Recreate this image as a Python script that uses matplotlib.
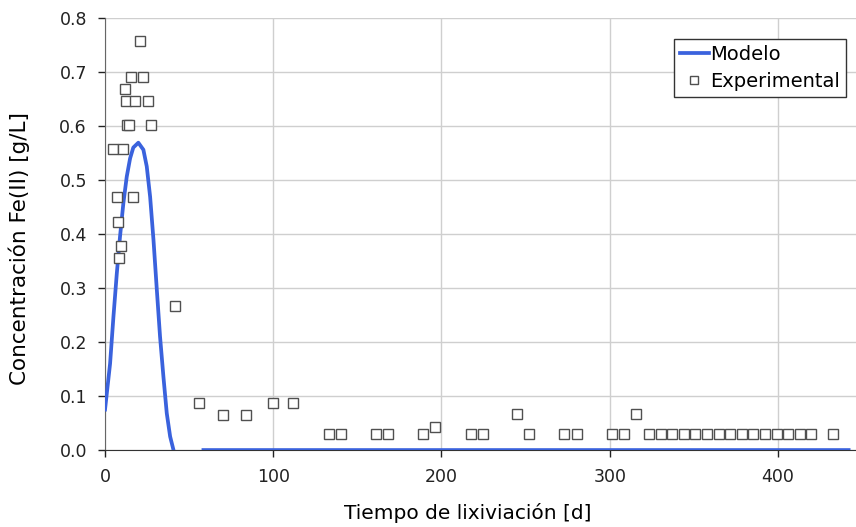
import numpy as np
import matplotlib
matplotlib.use("Agg")
import matplotlib.pyplot as plt
from matplotlib.ticker import FormatStrFormatter

plt.rcParams["font.family"] = ["DejaVu Sans"]

# ── data ─────────────────────────────────────────────────
# modelo (dos tramos, separados por NaN)
model_t = [0, 3, 5, 7, 8.9, 10.9, 12.9, 14.9, 16.8, 19.8, 22.8, 24.8, 26.8,
           28.8, 30.8, 32.7, 34.7, 36.7, 38.7, 40.7, np.nan, 58.5, 442]
model_c = [0.075, 0.16, 0.247, 0.327, 0.395, 0.457, 0.506, 0.54, 0.56, 0.569,
           0.556, 0.525, 0.469, 0.389, 0.296, 0.21, 0.136, 0.068, 0.025, 0.0,
           np.nan, 0.0, 0.0]

exp_t = [4.9, 7.0, 7.5, 8.5, 9.3, 10.5, 11.7, 12.5, 12.9, 14.5, 15.5, 16.5,
         17.9, 20.8, 22.4, 25.8, 27.6, 41.7, 55.8, 70.0, 83.8, 99.6, 111.7,
         133.0, 140.4, 161.1, 168.2, 189.1, 196.0, 217.3, 224.6, 245.0, 251.9,
         272.8, 280.8, 301.6, 308.5, 315.5,
         323.3, 330.2, 337.1, 344.0, 350.9, 357.8, 364.7, 371.6, 378.5, 385.4,
         392.3, 399.2, 406.1, 413.0, 419.9, 433.0]
exp_c = [0.557, 0.468, 0.423, 0.356, 0.378, 0.557, 0.668, 0.647, 0.602, 0.602,
         0.69, 0.468, 0.647, 0.758, 0.69, 0.647, 0.602, 0.267, 0.088, 0.065,
         0.065, 0.088, 0.088,
         0.029, 0.029, 0.029, 0.029, 0.029, 0.043, 0.029, 0.029, 0.066, 0.029,
         0.029, 0.029, 0.029, 0.029, 0.066,
         0.029, 0.029, 0.029, 0.029, 0.029, 0.029, 0.029, 0.029, 0.029, 0.029,
         0.029, 0.029, 0.029, 0.029, 0.029, 0.029]

x_ticks = [0, 100, 200, 300, 400]
y_ticks = [0.0, 0.1, 0.2, 0.3, 0.4, 0.5, 0.6, 0.7, 0.8]

# ── figure ───────────────────────────────────────────────
fig = plt.figure(figsize=(8.56, 5.27), dpi=100)
ax = fig.add_axes([0.1227, 0.146, 0.8785, 0.82])

ax.plot(model_t, model_c, color="#3A62DD", linewidth=2.7, label="Modelo",
        zorder=3)
ax.plot(exp_t, exp_c, linestyle="none", marker="s", markersize=7.2,
        markerfacecolor="white", markeredgecolor="#505050",
        markeredgewidth=1.0, label="Experimental", zorder=4)

ax.set_xlim(0, 447)
ax.set_ylim(0, 0.8)
ax.set_xticks(x_ticks)
ax.set_yticks(y_ticks)
ax.yaxis.set_major_formatter(FormatStrFormatter("%.1f"))
ax.tick_params(labelsize=12.5, colors="#222222", length=5, width=1,
               direction="out")
ax.tick_params(axis="x", pad=8)
ax.tick_params(axis="y", pad=8)

ax.grid(True, color="#CFCFCF", linewidth=1)
ax.set_axisbelow(True)
for s in ["top", "right"]:
    ax.spines[s].set_visible(False)
ax.spines["left"].set_color("#666666")
ax.spines["bottom"].set_color("#333333")

ax.set_xlabel("Tiempo de lixiviación [d]", fontsize=14.5)
ax.set_ylabel("Concentración Fe(II) [g/L]", fontsize=15.5)
ax.xaxis.set_label_coords(0.483, -0.122)
ax.yaxis.set_label_coords(-0.1, 0.466)

leg = ax.legend(loc="upper right", bbox_to_anchor=(0.985, 0.951),
                borderaxespad=0, fontsize=14, fancybox=False,
                framealpha=1, edgecolor="#333333", markerscale=0.75,
                handlelength=1.5, handletextpad=0.05, borderpad=0.3,
                labelspacing=0.4)
leg.get_frame().set_linewidth(1)

fig.savefig("out.png", dpi=100)
